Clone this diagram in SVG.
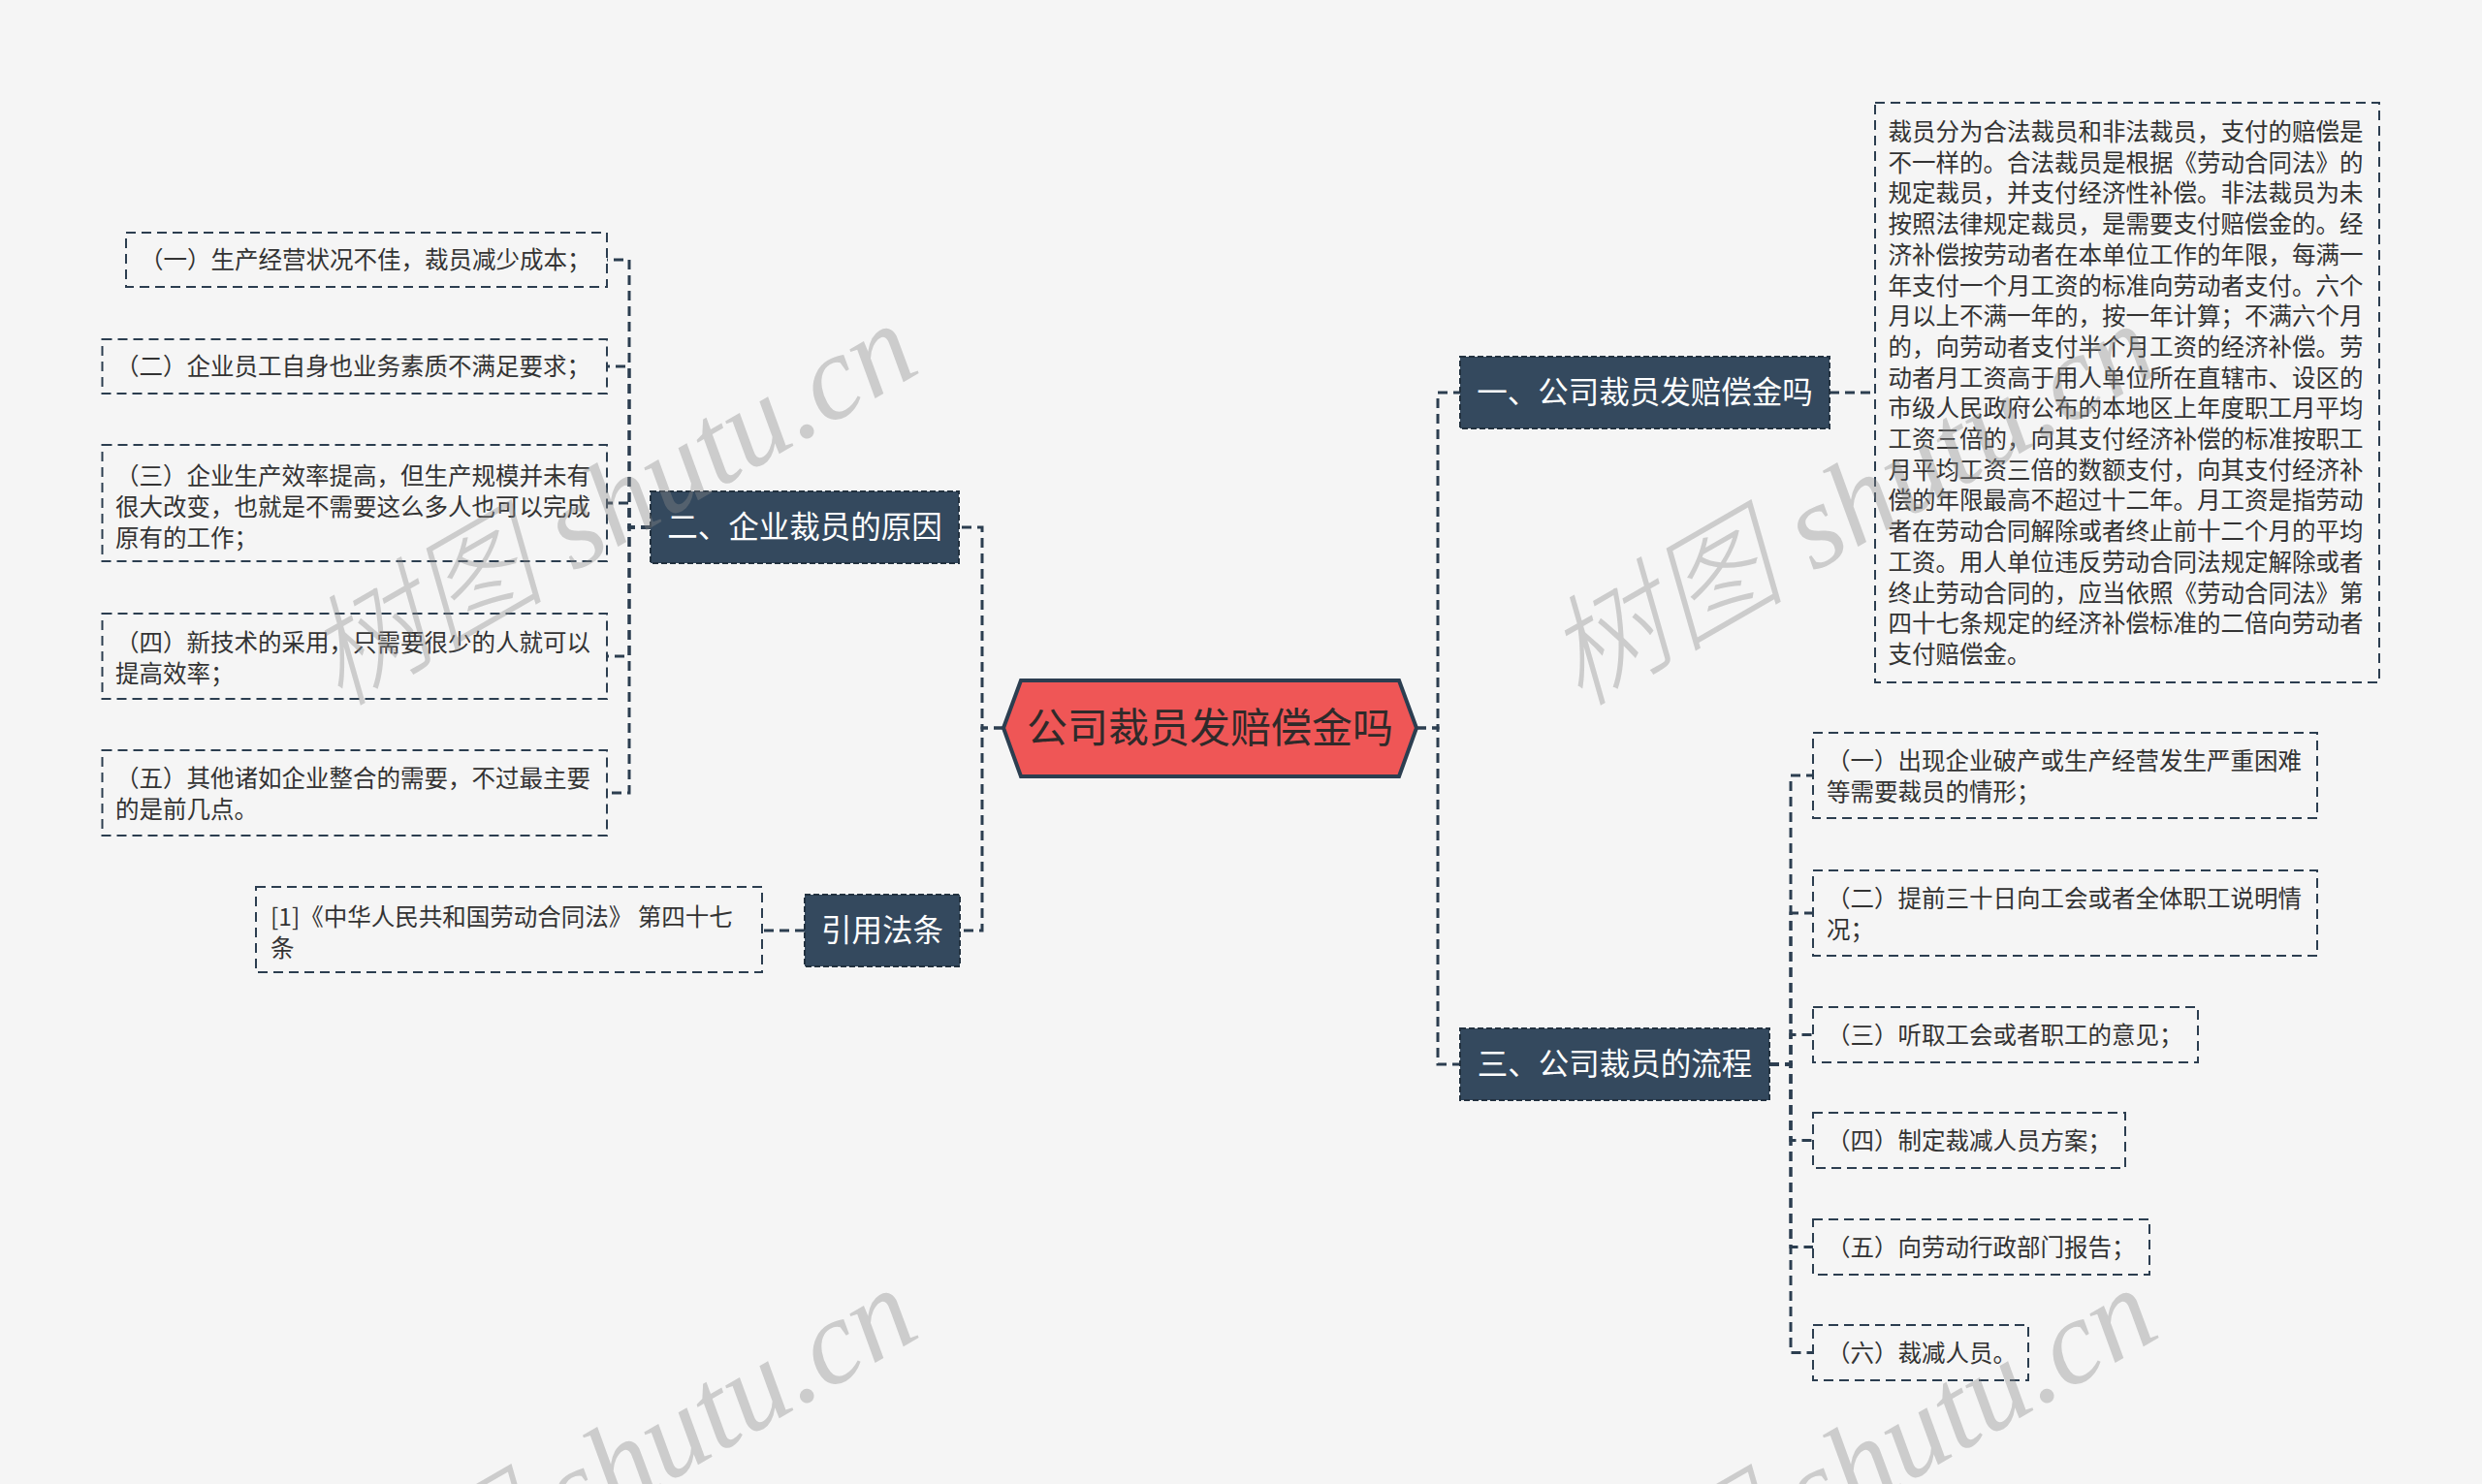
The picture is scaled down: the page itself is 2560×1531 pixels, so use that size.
<svg xmlns="http://www.w3.org/2000/svg" width="2560" height="1531" viewBox="0 0 2560 1531">
<style>
.conn{fill:none;stroke:#2c3e50;stroke-width:3;stroke-dasharray:10 6}
.leaf rect{fill:none;stroke:#2c3e50;stroke-width:2;stroke-dasharray:10 6}
.leaf text{font-family:"Noto Sans CJK SC","Liberation Sans",sans-serif;font-size:24.5px;fill:#333333}
.branch rect{fill:#34495e;stroke:#22313f;stroke-width:2;stroke-dasharray:6 3}
.branch text{font-family:"Noto Sans CJK SC","Liberation Sans",sans-serif;font-size:31.5px;fill:#ffffff;text-anchor:middle}
.root polygon{fill:#ef5656;stroke:#2c3e50;stroke-width:4}
.root text{font-family:"Noto Sans CJK SC","Liberation Sans",sans-serif;font-size:42px;fill:#2f2a2a;text-anchor:middle}
.wm{font-family:"Liberation Serif","Noto Sans CJK SC",serif;font-style:italic;font-weight:300;font-size:124px;fill:#888888;fill-opacity:0.38}
</style>
<rect width="2560" height="1531" fill="#f5f5f5"/>
<g id="connectors">
<path class="conn" d="M1035,751 H1013 V544 H989"/>
<path class="conn" d="M1035,751 H1013 V960 H990"/>
<path class="conn" d="M1461,751 H1483 V405 H1506"/>
<path class="conn" d="M1461,751 H1483 V1098 H1506"/>
<path class="conn" d="M1887,405 H1934"/>
<path class="conn" d="M671,544 H649 V268 H626"/>
<path class="conn" d="M671,544 H649 V378 H626"/>
<path class="conn" d="M671,544 H649 V519 H626"/>
<path class="conn" d="M671,544 H649 V677 H626"/>
<path class="conn" d="M671,544 H649 V818 H626"/>
<path class="conn" d="M830,960 H786"/>
<path class="conn" d="M1825,1098 H1847 V800 H1870"/>
<path class="conn" d="M1825,1098 H1847 V942 H1870"/>
<path class="conn" d="M1825,1098 H1847 V1067.5 H1870"/>
<path class="conn" d="M1825,1098 H1847 V1176.5 H1870"/>
<path class="conn" d="M1825,1098 H1847 V1286.5 H1870"/>
<path class="conn" d="M1825,1098 H1847 V1395.5 H1870"/>
</g>
<g id="root" class="root">
<polygon points="1035,751 1053,702 1443,702 1461,751 1443,801 1053,801"/>
<text x="1248" y="766">公司裁员发赔偿金吗</text>
</g>
<g id="b1" class="branch">
<rect x="1506" y="368" width="381" height="74"/>
<text x="1696.5" y="416">一、公司裁员发赔偿金吗</text>
</g>
<g id="b2" class="branch">
<rect x="671" y="507" width="318" height="74"/>
<text x="830" y="555">二、企业裁员的原因</text>
</g>
<g id="b3" class="branch">
<rect x="830" y="923" width="160" height="74"/>
<text x="910" y="971">引用法条</text>
</g>
<g id="b4" class="branch">
<rect x="1506" y="1061" width="319" height="74"/>
<text x="1665.5" y="1109">三、公司裁员的流程</text>
</g>
<g id="b1-text" class="leaf">
<rect x="1934" y="106" width="520" height="598"/>
<text x="1947.5">
<tspan x="1947.5" y="145">裁员分为合法裁员和非法裁员，支付的赔偿是</tspan>
<tspan x="1947.5" y="176.7">不一样的。合法裁员是根据《劳动合同法》的</tspan>
<tspan x="1947.5" y="208.4">规定裁员，并支付经济性补偿。非法裁员为未</tspan>
<tspan x="1947.5" y="240.1">按照法律规定裁员，是需要支付赔偿金的。经</tspan>
<tspan x="1947.5" y="271.8">济补偿按劳动者在本单位工作的年限，每满一</tspan>
<tspan x="1947.5" y="303.5">年支付一个月工资的标准向劳动者支付。六个</tspan>
<tspan x="1947.5" y="335.2">月以上不满一年的，按一年计算；不满六个月</tspan>
<tspan x="1947.5" y="366.9">的，向劳动者支付半个月工资的经济补偿。劳</tspan>
<tspan x="1947.5" y="398.6">动者月工资高于用人单位所在直辖市、设区的</tspan>
<tspan x="1947.5" y="430.3">市级人民政府公布的本地区上年度职工月平均</tspan>
<tspan x="1947.5" y="462">工资三倍的，向其支付经济补偿的标准按职工</tspan>
<tspan x="1947.5" y="493.7">月平均工资三倍的数额支付，向其支付经济补</tspan>
<tspan x="1947.5" y="525.4">偿的年限最高不超过十二年。月工资是指劳动</tspan>
<tspan x="1947.5" y="557.1">者在劳动合同解除或者终止前十二个月的平均</tspan>
<tspan x="1947.5" y="588.8">工资。用人单位违反劳动合同法规定解除或者</tspan>
<tspan x="1947.5" y="620.5">终止劳动合同的，应当依照《劳动合同法》第</tspan>
<tspan x="1947.5" y="652.2">四十七条规定的经济补偿标准的二倍向劳动者</tspan>
<tspan x="1947.5" y="683.9">支付赔偿金。</tspan>
</text>
</g>
<g id="l1" class="leaf">
<rect x="130" y="240" width="496" height="56"/>
<text x="144" y="277">（一）生产经营状况不佳，裁员减少成本；</text>
</g>
<g id="l2" class="leaf">
<rect x="105.5" y="350" width="520.5" height="56"/>
<text x="119" y="387">（二）企业员工自身也业务素质不满足要求；</text>
</g>
<g id="l3" class="leaf">
<rect x="105.5" y="459" width="520.5" height="120"/>
<text><tspan x="119" y="499.5">（三）企业生产效率提高，但生产规模并未有</tspan><tspan x="119" y="532">很大改变，也就是不需要这么多人也可以完成</tspan><tspan x="119" y="564">原有的工作；</tspan></text>
</g>
<g id="l4" class="leaf">
<rect x="105.5" y="633" width="520.5" height="88"/>
<text><tspan x="119" y="672">（四）新技术的采用，只需要很少的人就可以</tspan><tspan x="119" y="704">提高效率；</tspan></text>
</g>
<g id="l5" class="leaf">
<rect x="105.5" y="774" width="520.5" height="88"/>
<text><tspan x="119" y="812">（五）其他诸如企业整合的需要，不过最主要</tspan><tspan x="119" y="844">的是前几点。</tspan></text>
</g>
<g id="c1" class="leaf">
<rect x="264" y="915" width="522" height="88"/>
<text><tspan x="279" y="955">[1]《中华人民共和国劳动合同法》 第四十七</tspan><tspan x="279" y="987">条</tspan></text>
</g>
<g id="r1" class="leaf">
<rect x="1870" y="756" width="520" height="88"/>
<text><tspan x="1884" y="794">（一）出现企业破产或生产经营发生严重困难</tspan><tspan x="1884" y="826">等需要裁员的情形；</tspan></text>
</g>
<g id="r2" class="leaf">
<rect x="1870" y="898" width="520" height="88"/>
<text><tspan x="1884" y="936">（二）提前三十日向工会或者全体职工说明情</tspan><tspan x="1884" y="968">况；</tspan></text>
</g>
<g id="r3" class="leaf">
<rect x="1870" y="1039" width="397" height="57"/>
<text x="1884" y="1076.5">（三）听取工会或者职工的意见；</text>
</g>
<g id="r4" class="leaf">
<rect x="1870" y="1148" width="322" height="57"/>
<text x="1884" y="1185.5">（四）制定裁减人员方案；</text>
</g>
<g id="r5" class="leaf">
<rect x="1870" y="1258" width="347" height="57"/>
<text x="1884" y="1295.5">（五）向劳动行政部门报告；</text>
</g>
<g id="r6" class="leaf">
<rect x="1870" y="1367" width="222" height="57"/>
<text x="1884" y="1404.5">（六）裁减人员。</text>
</g>
<g id="watermarks">
<text class="wm" transform="translate(350,730) rotate(-30)">树图 shutu.cn</text>
<text class="wm" transform="translate(1629,730) rotate(-30)">树图 shutu.cn</text>
<text class="wm" transform="translate(350,1725) rotate(-30)">树图 shutu.cn</text>
<text class="wm" transform="translate(1629,1725) rotate(-30)">树图 shutu.cn</text>
</g>
</svg>
